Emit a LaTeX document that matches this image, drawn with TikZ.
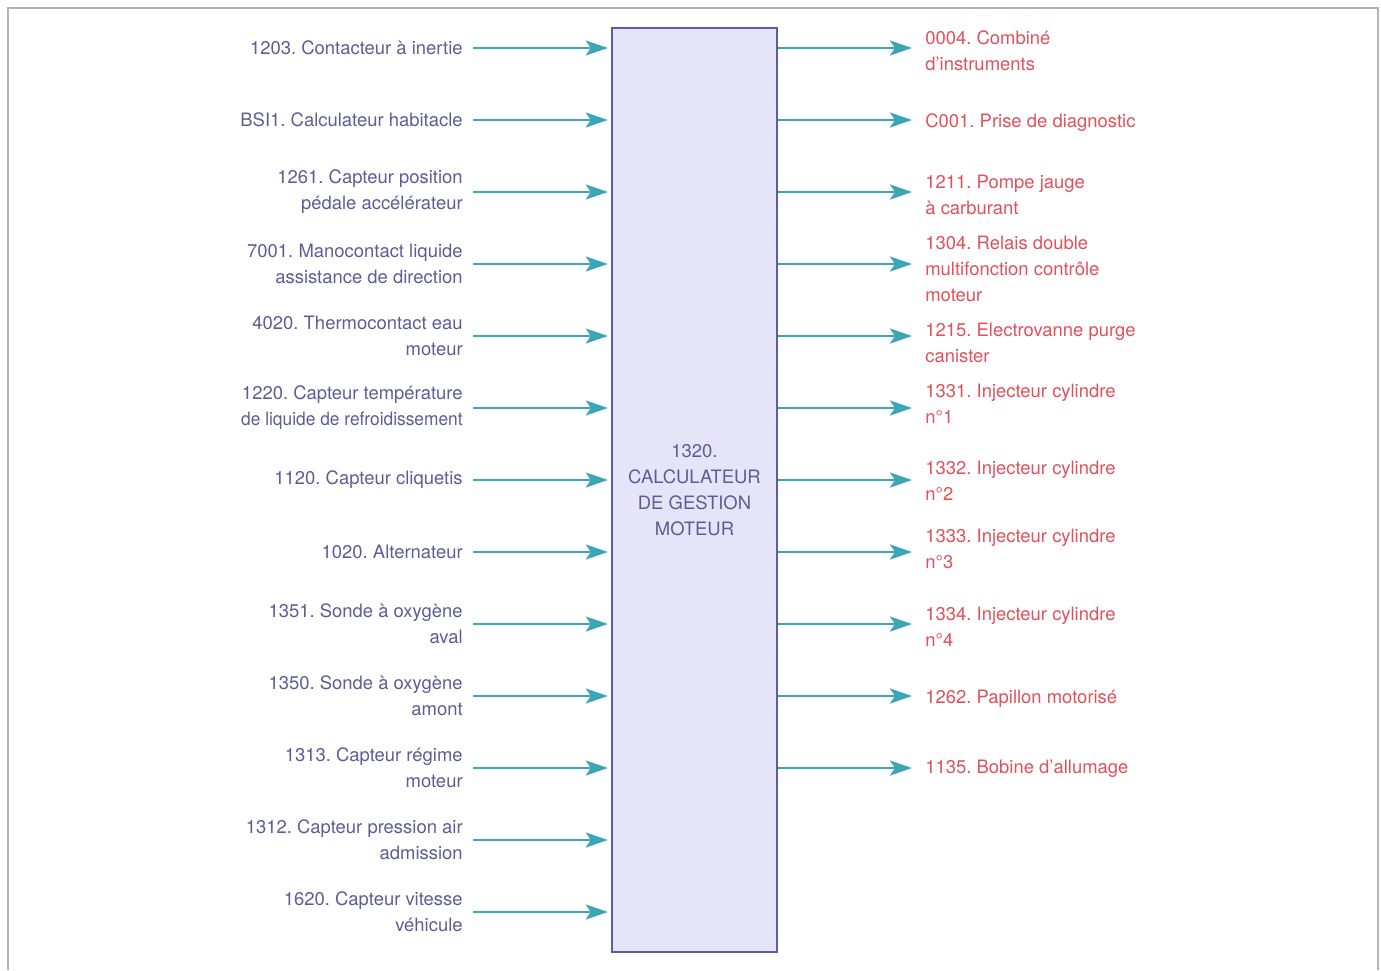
\documentclass[tikz,border=0pt]{standalone}
\usepackage{fontspec}
\setmainfont{TeX Gyre Heros}
\frenchspacing
\usetikzlibrary{positioning,arrows.meta}
\definecolor{intxt}{HTML}{5B5E96}
\definecolor{outtxt}{HTML}{E2505A}
\definecolor{linkc}{HTML}{3CA5B8}
\definecolor{ecufill}{HTML}{E6E4F8}
\definecolor{ecuedge}{HTML}{5B5EA0}
\definecolor{framec}{HTML}{B4B4B4}
\tikzset{
  inlabel/.style={anchor=east, align=right, text=intxt, inner xsep=0.2cm, inner ysep=0pt},
  outlabel/.style={anchor=west, align=left, text=outtxt, inner xsep=0.26cm, inner ysep=0pt},
  link/.style={linkc, line width=1.6pt, -{Stealth[length=0.44cm,width=0.3cm,inset=0.1cm]}},
}

\begin{document}
\begin{tikzpicture}[x=0.02cm,y=-0.02cm,font=\fontsize{10.5}{14.8}\selectfont]
  \useasboundingbox (0,0) rectangle (1381,970);
  \draw[framec, line width=1.2pt] (8,970) -- (8,8) -- (1378,8) -- (1378,970);

  % central unit
  \node[draw=ecuedge, fill=ecufill, line width=1.4pt, minimum width=3.3cm,
        minimum height=18.48cm, text=intxt, align=center] (ecu) at (694.5,490)
        {1320.\\CALCULATEUR\\DE GESTION\\MOTEUR};

  % inputs
  \foreach \y/\txt [count=\i] in {
      48/{1203. Contacteur à inertie},
      120/{BSI1. Calculateur habitacle},
      192/{1261. Capteur position\\pédale accélérateur},
      264/{7001. Manocontact liquide\\assistance de direction},
      336/{4020. Thermocontact eau\\moteur},
      408/{1220. Capteur température\\\scalebox{0.94}[1]{de liquide de refroidissement}},
      480/{1120. Capteur cliquetis},
      552/{1020. Alternateur},
      624/{1351. Sonde à oxygène\\aval},
      696/{1350. Sonde à oxygène\\amont},
      768/{1313. Capteur régime\\moteur},
      840/{1312. Capteur pression air\\admission},
      912/{1620. Capteur vitesse\\véhicule}} {
    \node[inlabel] (in\i) at (473,\y) {\txt};
    \draw[link, shorten >=1.7pt] (in\i.east) -- (in\i.east -| ecu.west);
  }

  % outputs
  \foreach \y/\dy/\txt [count=\i] in {
      48/3/{0004. Combiné\\d’instruments},
      120/3/{C001. Prise de diagnostic},
      192/3/{1211. Pompe jauge\\à carburant},
      264/5/{1304. Relais double\\multifonction contrôle\\moteur},
      336/7/{1215. Electrovanne purge\\canister},
      408/-4/{1331. Injecteur cylindre\\n°1},
      480/1/{1332. Injecteur cylindre\\n°2},
      552/-3/{1333. Injecteur cylindre\\n°3},
      624/3/{1334. Injecteur cylindre\\n°4},
      696/3/{1262. Papillon motorisé},
      768/1/{1135. Bobine d’allumage}} {
    \coordinate (tip\i) at (912,\y);
    \node[outlabel] (out\i) at (912,\y+\dy) {\txt};
    \draw[link] (tip\i -| ecu.east) -- (tip\i);
  }
\end{tikzpicture}
\end{document}
